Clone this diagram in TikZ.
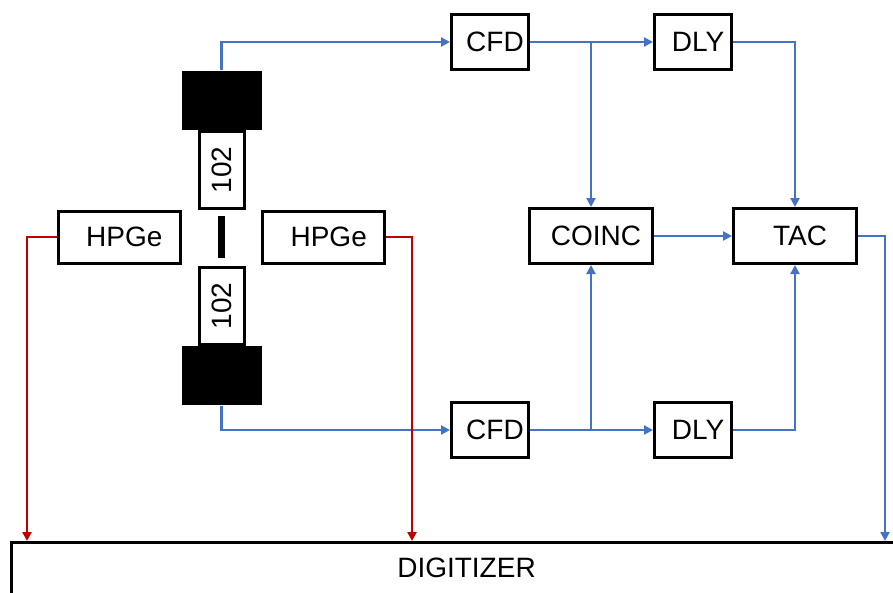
\documentclass[tikz,border=0pt]{standalone}
\usepackage{fontspec}
\setmainfont{Liberation Sans}
\usetikzlibrary{arrows.meta, positioning}
\definecolor{sigblue}{HTML}{4472C4}
\definecolor{hpred}{HTML}{C00000}
\tikzset{
  blk/.style={draw, rectangle, line width=3pt, minimum height=55pt, font=\fontsize{28}{30}\selectfont},
  txt/.style={execute at begin node={\hspace*{10pt}}},
  pmt/.style={fill=black, rectangle, minimum width=80pt, minimum height=59pt, inner sep=0pt},
  bsig/.style={color=sigblue, line width=2.8pt, -{Triangle[length=9pt,width=9pt]}},
  rsig/.style={color=hpred, line width=2.8pt, -{Triangle[length=9pt,width=9pt]}},
}
\begin{document}
\begin{tikzpicture}[x=1pt, y=1pt]
  \useasboundingbox (0,0) rectangle (893,-592);
  % detectors round the source
  \node[fill=black, minimum width=7pt, minimum height=42pt, inner sep=0pt] (src) at (221.5,-237) {};
  \node[blk, txt, minimum width=122pt, minimum height=52pt, left=36pt of src] (hpL) {HPGe};
  \node[blk, txt, minimum width=122pt, minimum height=52pt, right=36pt of src] (hpR) {HPGe};
  \node[blk, minimum width=45pt, minimum height=77pt, above=6pt of src] (labT) {\rotatebox{90}{102}};
  \node[blk, minimum width=45pt, minimum height=77pt, below=8pt of src] (labB) {\rotatebox{90}{102}};
  \node[pmt, above=0pt of labT] (pmtT) {};
  \node[pmt, below=0pt of labB] (pmtB) {};
  % timing electronics
  \node[blk, txt, minimum width=77pt] (cfdT) at (490,-42) {CFD};
  \node[blk, txt, minimum width=77pt, right=123pt of cfdT] (dlyT) {DLY};
  \node[blk, txt, minimum width=77pt] (cfdB) at (490,-430) {CFD};
  \node[blk, txt, minimum width=77pt, right=123pt of cfdB] (dlyB) {DLY};
  \node[blk, txt, minimum width=123pt] (coinc) at (591,-236) {COINC};
  \node[blk, txt, minimum width=123pt, right=78pt of coinc] (tac) {TAC};
  \node[blk, minimum width=910pt, minimum height=62pt, text height=20pt, text depth=12pt, anchor=north west] (dig) at (10,-541) {DIGITIZER};
  % signals
  \draw[bsig] (pmtT.north) |- (cfdT.west);
  \draw[bsig] (pmtB.south) |- (cfdB.west);
  \draw[bsig] (cfdT.east) -- (dlyT.west);
  \draw[bsig] (cfdB.east) -- (dlyB.west);
  \draw[bsig] (cfdT.east -| coinc.north) -- (coinc.north);
  \draw[bsig] (cfdB.east -| coinc.south) -- (coinc.south);
  \draw[bsig] (coinc.east) -- (tac.west);
  \draw[bsig] (dlyT.east) -| (tac.north);
  \draw[bsig] (dlyB.east) -| (tac.south);
  \draw[bsig] (tac.east) -| ([xshift=875pt]dig.north west);
  \draw[rsig] (hpL.west) -| ([xshift=17pt]dig.north west);
  \draw[rsig] (hpR.east) -| ([xshift=402pt]dig.north west);
\end{tikzpicture}
\end{document}
